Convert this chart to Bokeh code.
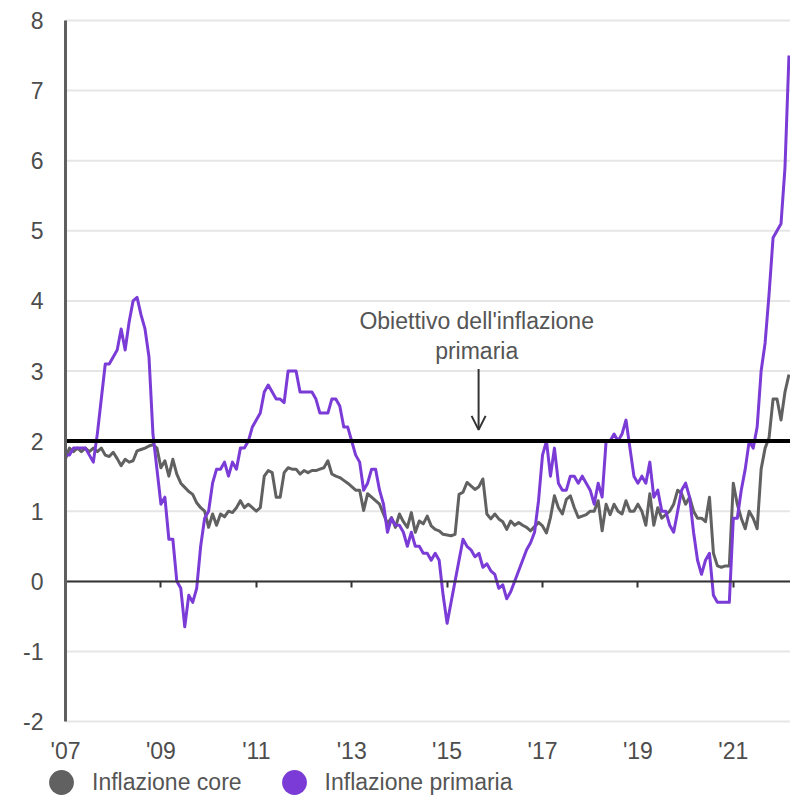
from bokeh.plotting import figure
from bokeh.models import (Range1d, FixedTicker, LinearAxis, Label, Arrow,
                          OpenHead, Legend, LegendItem, ColumnDataSource)
from bokeh.embed import file_html
from bokeh.resources import INLINE

# ---------------- data (monthly, Jan 2007 - Mar 2022) ----------------
start_year = 2007
core_2007 = [1.75, 1.9, 1.85, 1.9, 1.85, 1.9, 1.85, 1.9, 1.85, 1.9, 1.8, 1.78]
core_2008 = [1.84, 1.75, 1.65, 1.74, 1.7, 1.72, 1.86, 1.88, 1.9, 1.93, 1.95, 1.9]
core_2009 = [1.62, 1.72, 1.5, 1.74, 1.53, 1.4, 1.34, 1.28, 1.24, 1.12, 1.05, 1.0]
core_2010 = [0.77, 0.96, 0.8, 0.96, 0.92, 1.0, 0.98, 1.05, 1.15, 1.05, 1.1, 1.05]
core_2011 = [1.0, 1.05, 1.5, 1.58, 1.55, 1.2, 1.2, 1.55, 1.62, 1.6, 1.6, 1.53]
core_2012 = [1.58, 1.55, 1.58, 1.58, 1.6, 1.62, 1.72, 1.53, 1.5, 1.48, 1.44, 1.4]
core_2013 = [1.35, 1.3, 1.3, 1.01, 1.25, 1.2, 1.15, 1.1, 0.96, 0.82, 0.91, 0.77]
core_2014 = [0.96, 0.85, 0.77, 0.98, 0.7, 0.86, 0.82, 0.93, 0.79, 0.74, 0.72, 0.67]
core_2015 = [0.66, 0.65, 0.67, 1.24, 1.27, 1.41, 1.36, 1.31, 1.35, 1.46, 0.96, 0.89]
core_2016 = [0.96, 0.89, 0.85, 0.74, 0.86, 0.8, 0.84, 0.8, 0.77, 0.72, 0.78, 0.84]
core_2017 = [0.79, 0.69, 0.91, 1.22, 1.05, 0.96, 1.17, 1.22, 1.05, 0.91, 0.93, 0.95]
core_2018 = [1.0, 1.0, 1.15, 0.72, 1.1, 0.95, 1.1, 1.0, 0.96, 1.15, 1.0, 1.0]
core_2019 = [1.1, 1.0, 0.8, 1.25, 0.8, 1.05, 0.9, 0.95, 1.0, 1.1, 1.3, 1.25]
core_2020 = [1.1, 1.2, 1.0, 0.9, 0.9, 0.85, 1.2, 0.4, 0.22, 0.2, 0.22, 0.22]
core_2021 = [1.4, 1.1, 0.9, 0.75, 1.0, 0.9, 0.75, 1.6, 1.9, 2.05, 2.6, 2.6]
core_2022 = [2.3, 2.7, 2.95]

head_2007 = [1.8, 1.8, 1.9, 1.9, 1.9, 1.9, 1.8, 1.7, 2.1, 2.6, 3.1, 3.1]
head_2008 = [3.2, 3.3, 3.6, 3.3, 3.7, 4.0, 4.05, 3.8, 3.6, 3.2, 2.1, 1.6]
head_2009 = [1.1, 1.2, 0.6, 0.6, 0.0, -0.1, -0.65, -0.2, -0.3, -0.1, 0.5, 0.9]
head_2010 = [1.0, 1.4, 1.6, 1.6, 1.7, 1.5, 1.7, 1.6, 1.9, 1.9, 2.0, 2.2]
head_2011 = [2.3, 2.4, 2.7, 2.8, 2.7, 2.6, 2.6, 2.55, 3.0, 3.0, 3.0, 2.7]
head_2012 = [2.7, 2.7, 2.7, 2.6, 2.4, 2.4, 2.4, 2.6, 2.6, 2.5, 2.2, 2.2]
head_2013 = [2.0, 1.8, 1.7, 1.3, 1.4, 1.6, 1.6, 1.3, 1.1, 0.7, 0.9, 0.8]
head_2014 = [0.8, 0.7, 0.5, 0.7, 0.5, 0.5, 0.4, 0.4, 0.3, 0.4, 0.3, -0.2]
head_2015 = [-0.6, -0.3, 0.0, 0.3, 0.6, 0.5, 0.45, 0.35, 0.4, 0.2, 0.25, 0.15]
head_2016 = [0.1, -0.1, -0.05, -0.25, -0.15, 0.0, 0.15, 0.3, 0.45, 0.55, 0.7, 1.15]
head_2017 = [1.8, 2.0, 1.5, 1.9, 1.4, 1.3, 1.3, 1.5, 1.5, 1.4, 1.5, 1.4]
head_2018 = [1.3, 1.1, 1.4, 1.2, 2.0, 2.0, 2.1, 2.0, 2.1, 2.3, 1.9, 1.5]
head_2019 = [1.4, 1.5, 1.4, 1.7, 1.2, 1.3, 1.0, 1.0, 0.8, 0.7, 1.0, 1.3]
head_2020 = [1.4, 1.2, 0.7, 0.3, 0.1, 0.3, 0.4, -0.2, -0.3, -0.3, -0.3, -0.3]
head_2021 = [0.9, 0.9, 1.3, 1.6, 2.0, 1.9, 2.2, 3.0, 3.4, 4.1, 4.9, 5.0]
head_2022 = [5.1, 5.9, 7.5]

x_ticks = [2007, 2009, 2011, 2013, 2015, 2017, 2019, 2021]
x_labels = ["'07", "'09", "'11", "'13", "'15", "'17", "'19", "'21"]
y_ticks = [-2, -1, 0, 1, 2, 3, 4, 5, 6, 7, 8]
y_labels = ["-2", "-1", "0", "1", "2", "3", "4", "5", "6", "7", "8"]
target = 2
series_names = ["Inflazione core", "Inflazione primaria"]
note_lines = ["Obiettivo dell'inflazione", "primaria"]

core = (core_2007 + core_2008 + core_2009 + core_2010 + core_2011 + core_2012 +
        core_2013 + core_2014 + core_2015 + core_2016 + core_2017 + core_2018 +
        core_2019 + core_2020 + core_2021 + core_2022)
headline = (head_2007 + head_2008 + head_2009 + head_2010 + head_2011 + head_2012 +
            head_2013 + head_2014 + head_2015 + head_2016 + head_2017 + head_2018 +
            head_2019 + head_2020 + head_2021 + head_2022)
months = [start_year + i / 12 for i in range(len(headline))]

src = ColumnDataSource(dict(t=months, core=core, head=headline))

# ---------------- style ----------------
FONT = "Liberation Sans"
GRAY = "#616161"
PURPLE = "#7b3bd6"
TXT = "#4d4d4d"

# view window (frame covers the whole canvas; axes sit at fixed data locations)
X_VIEW = (2005.637, 2022.199)
Y_VIEW = (-3.0556, 8.2853)
x_lo, x_hi = x_ticks[0], X_VIEW[1]
y_lo, y_hi = y_ticks[0], y_ticks[-1]

p = figure(width=790, height=795, output_backend="svg", toolbar_location=None,
           x_range=Range1d(*X_VIEW), y_range=Range1d(*Y_VIEW),
           min_border_left=0, min_border_right=0, min_border_top=0,
           min_border_bottom=0)
p.outline_line_color = None
p.background_fill_color = "white"
p.border_fill_color = "white"
p.xgrid.visible = False
p.ygrid.visible = False

# horizontal gridlines (start at the y axis)
grid_src = ColumnDataSource(dict(y=y_ticks))
p.segment(x0=x_lo, x1=x_hi, y0="y", y1="y", source=grid_src,
          line_color="#e6e6e6", line_width=2)

# y axis at 2007
ya = p.yaxis[0]
ya.fixed_location = x_lo
ya.bounds = (y_lo, y_hi)
ya.ticker = FixedTicker(ticks=y_ticks)
ya.major_label_overrides = dict(zip(y_ticks, y_labels))
ya.axis_line_color = "#5f5f5f"
ya.axis_line_width = 3
ya.major_tick_line_color = None
ya.minor_tick_line_color = None
ya.major_tick_out = 0
ya.major_tick_in = 0
ya.major_label_standoff = 22
ya.major_label_text_font = FONT
ya.major_label_text_font_size = "23px"
ya.major_label_text_color = TXT

# zero line with small ticks
za = p.xaxis[0]
za.fixed_location = 0
za.bounds = (x_lo, x_hi)
za.ticker = FixedTicker(ticks=x_ticks)
za.axis_line_color = "#333333"
za.axis_line_width = 2
za.major_tick_line_color = "#333333"
za.major_tick_line_width = 2
za.major_tick_out = 6
za.major_tick_in = 0
za.minor_tick_line_color = None
za.major_label_text_color = None

# year labels under the bottom of the value scale
la = LinearAxis(ticker=FixedTicker(ticks=x_ticks), fixed_location=y_lo,
                major_label_overrides=dict(zip(x_ticks, x_labels)))
la.axis_line_color = None
la.major_tick_line_color = None
la.minor_tick_line_color = None
la.major_tick_out = 0
la.major_tick_in = 0
la.major_label_standoff = 16
la.major_label_text_font = FONT
la.major_label_text_font_size = "23px"
la.major_label_text_color = TXT
p.add_layout(la, "below")

# data lines
r_core = p.line("t", "core", source=src, line_color=GRAY, line_width=3,
                line_join="round")
r_head = p.line("t", "head", source=src, line_color=PURPLE, line_width=3,
                line_join="round")

# target line
p.line(x=[x_lo, x_hi], y=[target, target], line_color="black", line_width=4)

# annotation
p.add_layout(Label(x=2015.62, y=3.72, text=note_lines[0], text_align="center",
                   text_baseline="middle", text_font=FONT, text_font_size="23px",
                   text_color="#555555"))
p.add_layout(Label(x=2015.62, y=3.29, text=note_lines[1], text_align="center",
                   text_baseline="middle", text_font=FONT, text_font_size="23px",
                   text_color="#555555"))
p.add_layout(Arrow(end=OpenHead(size=14, line_width=2, line_color="#333333"),
                   x_start=2015.66, y_start=3.03, x_end=2015.66, y_end=2.16,
                   line_width=2, line_color="#333333"))

# legend swatches: zero-size markers on the last data point (only the legend shows them)
sw_core = p.scatter(x=[months[-1]], y=[core[-1]], marker="circle", size=0,
                    fill_color=GRAY, line_color=None)
sw_head = p.scatter(x=[months[-1]], y=[headline[-1]], marker="circle", size=0,
                    fill_color=PURPLE, line_color=None)
legend = Legend(items=[LegendItem(label=series_names[0], renderers=[sw_core]),
                       LegendItem(label=series_names[1], renderers=[sw_head])],
                orientation="horizontal", location=(30, -18),
                glyph_width=62, glyph_height=62, label_height=25,
                label_standoff=0, spacing=21, padding=0, margin=0,
                border_line_color=None, background_fill_alpha=0,
                label_text_font=FONT, label_text_font_size="23px",
                label_text_color="#555555")
p.add_layout(legend, "center")

open("out.html", "w").write(file_html(p, INLINE))
